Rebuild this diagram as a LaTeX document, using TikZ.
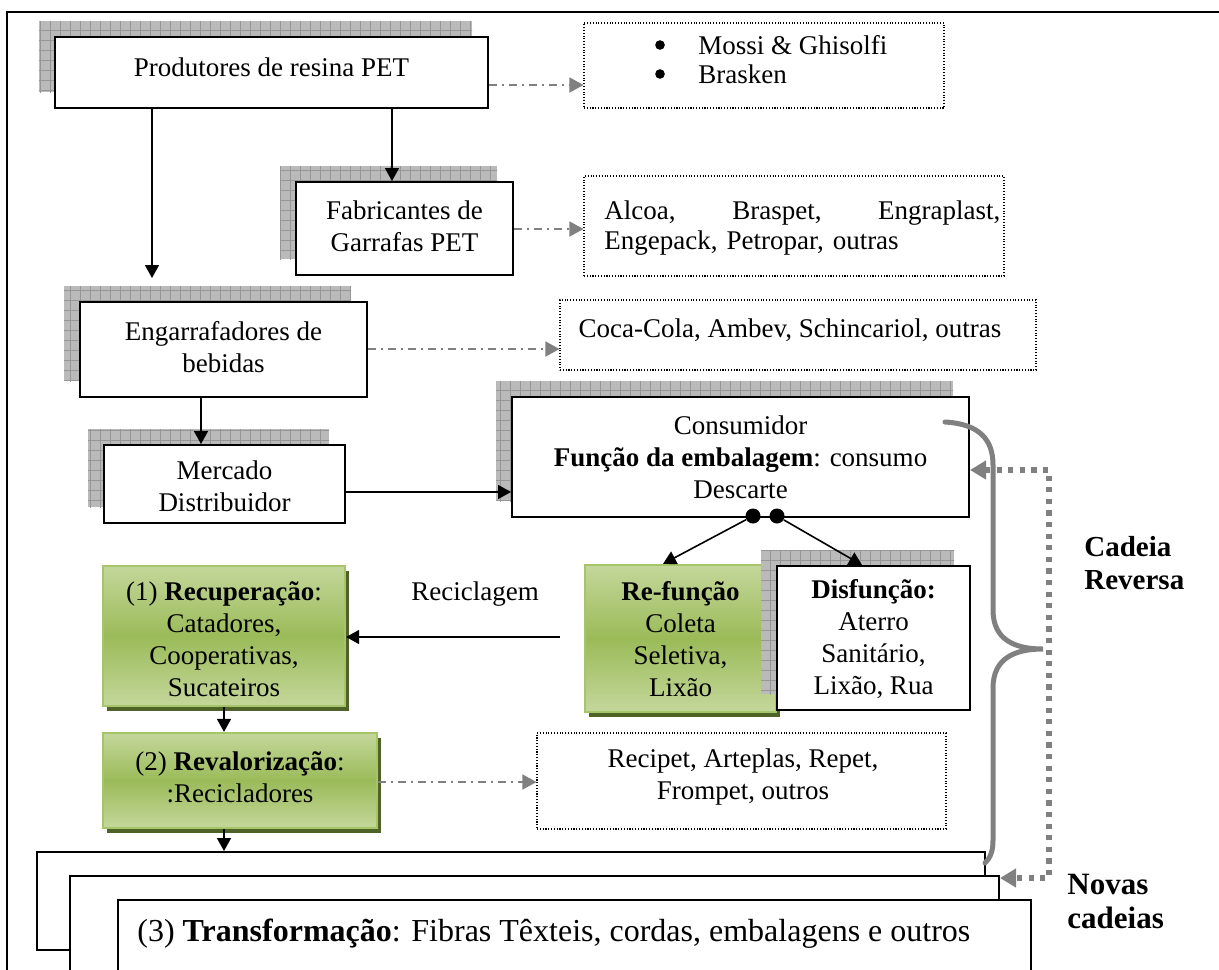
\documentclass[tikz,border=0pt]{standalone}
\usepackage{fontspec}
\setmainfont{Liberation Serif}
\usetikzlibrary{arrows.meta,calc,fit}

\definecolor{arrgray}{RGB}{128,128,128}
\definecolor{shgray}{RGB}{186,186,186}
\definecolor{shline}{RGB}{150,150,150}
\definecolor{glight}{RGB}{196,215,155}
\definecolor{gmid}{RGB}{155,187,89}
\definecolor{gborder}{RGB}{166,196,106}
\definecolor{gshadow}{RGB}{79,98,40}

\tikzset{
  box/.style={draw=black, line width=1pt, fill=white, inner sep=0pt},
  greenbox/.style={draw=gborder, line width=1.1pt, top color=glight, bottom color=glight,
    middle color=gmid, inner sep=0pt},
  listbox/.style={draw=black, line width=0.55pt, dash pattern=on 0.55pt off 0.85pt,
    fill=white, inner sep=0pt},
  txt/.style={align=center, inner sep=0pt},
  flow/.style={-{Triangle[length=6.5pt,width=7pt]}, line width=0.8pt},
  refer/.style={-{Triangle[length=7pt,width=7.5pt]}, draw=arrgray, line width=0.8pt,
    dash pattern=on 4pt off 2.5pt on 1pt off 2.5pt},
  feedback/.style={{Triangle[length=8pt,width=9pt]}-{Triangle[length=8pt,width=9pt]},
    draw=arrgray, line width=2.6pt, dash pattern=on 2.6pt off 3.2pt},
  brace/.style={draw=arrgray, line width=2.5pt, line cap=round},
  dotnode/.style={circle, fill=black, inner sep=0pt, minimum size=7.5pt},
  sidelabel/.style={anchor=west, align=left, inner sep=0pt},
}

% checkered shadow behind a box, shifted up and to the left
\newcommand{\gridshade}[4]{%
  \fill[shgray] ({#1-16},{#2-16}) rectangle ({#3-16},{#4-16});
  \begin{scope}
    \clip ({#1-16},{#2-16}) rectangle ({#3-16},{#4-16});
    \draw[shline, line width=0.35pt, xstep=5pt, ystep=5pt] ({#1-30},{#2-30}) grid ({#3},{#4});
  \end{scope}}
% dark drop shadow under a green box
\newcommand{\greenshade}[4]{\fill[gshadow] ({#1+4},{#2+5}) rectangle ({#3+4},{#4+5});}

\begin{document}
\begin{tikzpicture}[x=0.5pt, y=-0.5pt, font=\fontsize{13.5}{16}\selectfont]
\useasboundingbox (0,0) rectangle (1219,969);
\clip (0,0) rectangle (1219,969);
\fill[white] (0,0) rectangle (1219,969);

% frame
\draw[line width=1.3pt] (7,980) -- (7,12) -- (1230,12);

% forward chain
\gridshade{55}{37}{488}{108}
\node[box, fit={(55,37) (488,108)}] (prod) {};
\node[txt] (prodT) at (271.5,67.5) {Produtores de resina PET};
\node[listbox, fit={(584,23) (944,108)}] (listA) {};
\fill (660,45) circle[radius=2.4pt] (660,74) circle[radius=2.4pt];
\node[txt, anchor=west, align=left] (listAT) at (698,60)
  {Mossi \& Ghisolfi\\[-1.5pt]Brasken};

\gridshade{296}{182}{513}{275}
\node[box, fit={(296,182) (513,275)}] (fab) {};
\node[txt] (fabT) at (404.5,226.5) {Fabricantes de\\Garrafas PET};
\node[listbox, fit={(584,176) (1004,276)}] (listB) {};
\node[txt, anchor=west, align=left, text width=198pt] (listBT) at (604,228.5)
  {Alcoa,\hfill Braspet,\hfill Engraplast,\\[-1pt]Engepack, Petropar, outras};

\gridshade{80}{302}{367}{397}
\node[box, fit={(80,302) (367,397)}] (eng) {};
\node[txt] (engT) at (223.5,347) {Engarrafadores de\\bebidas};
\node[listbox, fit={(560,300) (1036,370)}] (listC) {};
\node[txt] (listCT) at (790,330) {Coca-Cola, Ambev, Schincariol, outras};

\gridshade{104}{445}{345}{523}
\node[box, fit={(104,445) (345,523)}] (merc) {};
\node[txt] (mercT) at (224.5,486.5) {Mercado\\Distribuidor};

\gridshade{512}{397}{969}{517}
\node[box, fit={(512,397) (969,517)}] (cons) {};
\node[txt] (consT) at (740.5,457)
  {Consumidor\\\textbf{Função da embalagem}: consumo\\Descarte};

% reverse chain
\greenshade{585}{565}{776}{712}
\node[greenbox, fit={(585,565) (776,712)}] (refn) {};
\node[txt] (refnT) at (680.5,639) {\textbf{Re-função}\\Coleta\\Seletiva,\\Lixão};
\gridshade{777}{566}{970}{710}
\node[box, fit={(777,566) (970,710)}] (disf) {};
\node[txt] (disfT) at (873.5,639) {\textbf{Disfunção:}\\Aterro\\Sanitário,\\Lixão, Rua};

\greenshade{103}{566}{345}{706}
\node[greenbox, fit={(103,566) (345,706)}] (rec) {};
\node[txt] (recT) at (224,639)
  {(1) \textbf{Recuperação}:\\Catadores,\\Cooperativas,\\Sucateiros};
\node[txt] (recl) at (475,594) {Reciclagem};

\greenshade{103}{733}{377}{828}
\node[greenbox, fit={(103,733) (377,828)}] (reval) {};
\node[txt] (revalT) at (240,777) {(2) \textbf{Revalorização}:\\:Recicladores};
\node[listbox, fit={(537,733) (946,829)}] (listD) {};
\node[txt] (listDT) at (743,777) {Recipet, Arteplas, Repet,\\Frompet, outros};

% stacked new-chain boxes
\node[box, fit={(37,852) (985,950)}] (t1) {};
\node[box, fit={(70,876) (999,1010)}] (t2) {};
\node[box, fit={(118,900) (1031,1010)}] (t3) {};
\node[sidelabel, font=\fontsize{16}{19}\selectfont] (t3T) at (137,934)
  {(3) \textbf{Transformação}: Fibras Têxteis, cordas, embalagens e outros};

% guide positions for connectors
\coordinate (xpf) at (392,0);
\coordinate (xpe) at (152,0);
\coordinate (pe) at (152,278);
\coordinate (xem) at (201,0);
\coordinate (xrr) at (224,0);
\coordinate (xl) at (663,0);
\coordinate (xr) at (862,0);
\coordinate (yA) at (0,85);
\coordinate (yB) at (0,229);
\coordinate (yC) at (0,349);
\coordinate (yD) at (0,782);
\coordinate (ymc) at (0,492);
\coordinate (recstart) at (560,637);
\coordinate (fb1) at (1049,470);
\coordinate (fb2) at (1049,878);

% solid flow arrows
\draw[flow] (prod.south -| xpf) -- (fab.north -| xpf);
\draw[flow] (prod.south -| xpe) -- (pe);
\draw[flow] (eng.south -| xem) -- (merc.north -| xem);
\draw[flow] (merc.east |- ymc) -- (cons.west |- ymc);
\node[dotnode] (d1) at (753,516) {};
\node[dotnode] (d2) at (777,516) {};
\draw[flow] (d1) -- (refn.north -| xl);
\draw[flow] (d2) -- (disf.north -| xr);
\draw[flow] (recstart) -- (rec.east |- recstart);
\draw[flow] (rec.south -| xrr) -- (reval.north -| xrr);
\draw[flow] (reval.south -| xrr) -- (t1.north -| xrr);

% dash-dot references to company lists
\draw[refer] (prod.east |- yA) -- (listA.west |- yA);
\draw[refer] (fab.east |- yB) -- (listB.west |- yB);
\draw[refer] (eng.east |- yC) -- (listC.west |- yC);
\draw[refer] (reval.east |- yD) -- (listD.west |- yD);

% reverse-chain brace and feedback loop
\draw[brace] (945,422) .. controls (980,424) and (993,440) .. (993,465)
  -- (993,610) .. controls (993,640) and (1015,649) .. (1043,649)
  .. controls (1015,649) and (993,658) .. (993,688)
  -- (993,840) .. controls (993,852) and (990,858) .. (985,863);
\draw[feedback] (cons.east |- fb1) -- (fb1) -- (fb2) -- (t2.east |- fb2);

\node[sidelabel, font=\bfseries\fontsize{14.5}{16.5}\selectfont] (cadeia) at (1084,563)
  {Cadeia\\Reversa};
\node[sidelabel, font=\bfseries\fontsize{15.5}{17}\selectfont] (novas) at (1067,901)
  {Novas\\cadeias};
\end{tikzpicture}
\end{document}
